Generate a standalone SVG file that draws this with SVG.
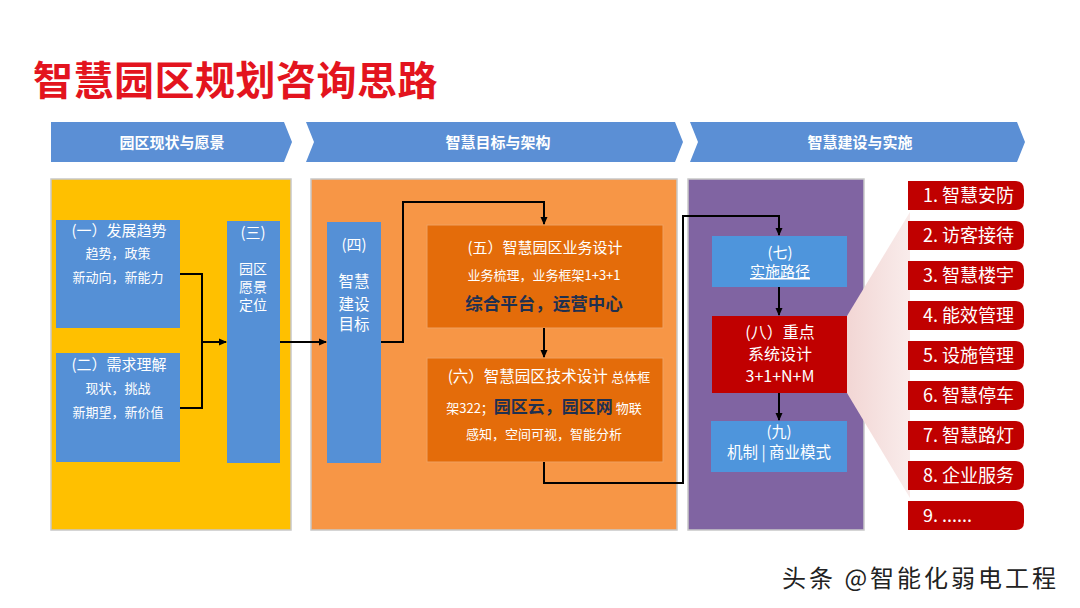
<svg xmlns="http://www.w3.org/2000/svg" width="1080" height="608" viewBox="0 0 1080 608">
<defs>
<style>
text{font-family:"Noto Sans CJK SC","Noto Sans",sans-serif;}
.hd{fill:#5B8FD5;}
.ht{fill:#fff;font-size:15px;font-weight:bold;text-anchor:middle;}
.panel{stroke:#C8C8C8;stroke-width:1.5;}
.bb{fill:#5590D6;}
.lb{fill:#4E95DC;}
.ob{fill:#E46C0A;stroke:#F0A060;stroke-width:1;}
.t15{fill:#fff;font-size:15px;text-anchor:middle;}
.t12{fill:#fff;font-size:13px;text-anchor:middle;}
.c{fill:none;stroke:#000;stroke-width:2;}
.tab{fill:#C00000;}
.tt{fill:#fff;font-size:18px;}
</style>
<marker id="ah" markerWidth="8" markerHeight="8" refX="7" refY="4" orient="auto" markerUnits="userSpaceOnUse">
<path d="M0,0.5 L8,4 L0,7.5 Z" fill="#000"/>
</marker>
<linearGradient id="fan" x1="0" y1="0" x2="1" y2="0">
<stop offset="0" stop-color="#F2D6D4"/>
<stop offset="1" stop-color="#F9ECEB"/>
</linearGradient>
</defs>
<rect width="1080" height="608" fill="#fff"/>
<text x="33" y="95" style="font-size:40px;font-weight:bold;fill:#E3141E;letter-spacing:0.5px;">智慧园区规划咨询思路</text>

<g id="header1"><path class="hd" d="M51,122 H284 L292,142 L284,162 H51 Z"/><text class="ht" x="172" y="148">园区现状与愿景</text></g>
<g id="header2"><path class="hd" d="M306,122 H675 L683,142 L675,162 H306 L314,142 Z"/><text class="ht" x="498" y="148">智慧目标与架构</text></g>
<g id="header3"><path class="hd" d="M690,122 H1017 L1025,142 L1017,162 H690 L698,142 Z"/><text class="ht" x="860" y="148">智慧建设与实施</text></g>

<g id="panel-yellow"><rect class="panel" x="51" y="179" width="240" height="351" fill="#FFC000"/></g>
<g id="panel-orange"><rect class="panel" x="311" y="179" width="366" height="351" fill="#F79646"/></g>
<g id="panel-purple"><rect class="panel" x="688" y="179" width="176" height="351" fill="#8064A2"/></g>

<g id="fan-shape"><path d="M847,316 L910,212 L910,498 L847,393 Z" fill="url(#fan)"/></g>

<g id="n1"><rect class="bb" x="56" y="220" width="124" height="108"/>
<text class="t15" x="119" y="236">(一）发展趋势</text>
<text class="t12" x="118" y="258">趋势，政策</text>
<text class="t12" x="118" y="282">新动向，新能力</text></g>
<g id="n2"><rect class="bb" x="56" y="353" width="124" height="109"/>
<text class="t15" x="119" y="370">(二）需求理解</text>
<text class="t12" x="118" y="393">现状，挑战</text>
<text class="t12" x="118" y="417">新期望，新价值</text></g>
<g id="n3"><rect class="bb" x="227" y="221" width="53" height="242"/>
<text class="t15" x="253" y="238">(三)</text>
<text class="t15" x="253" y="274" style="font-size:14px">园区<tspan x="253" dy="18">愿景</tspan><tspan x="253" dy="18">定位</tspan></text></g>

<g id="n4"><rect class="bb" x="327" y="222" width="54" height="241"/>
<text class="t15" x="354" y="250">(四)</text>
<text class="t15" x="354" y="287" style="font-size:15.5px">智慧</text>
<text class="t15" x="354" y="310" style="font-size:15.5px">建设<tspan x="354" dy="20">目标</tspan></text></g>
<g id="n5"><rect class="ob" x="427" y="225" width="236" height="103"/>
<text class="t15" x="545" y="253">(五）智慧园区业务设计</text>
<text class="t12" x="544" y="280">业务梳理，业务框架1+3+1</text>
<text x="544" y="310" style="font-size:17.5px;font-weight:bold;fill:#1F3050;text-anchor:middle;">综合平台，运营中心</text></g>
<g id="n6"><rect class="ob" x="427" y="358" width="236" height="104"/>
<text x="549" y="382" style="text-anchor:middle;fill:#fff;font-size:15.5px;">(六）智慧园区技术设计 <tspan style="font-size:13px">总体框</tspan></text>
<text x="544" y="413" style="text-anchor:middle;fill:#fff;font-size:13px;">架322；<tspan style="font-size:17px;font-weight:bold;fill:#1F3050;">园区云，园区网</tspan> 物联</text>
<text class="t12" x="544" y="439">感知，空间可视，智能分析</text></g>

<g id="n7"><rect class="lb" x="712" y="236" width="135" height="51"/>
<text class="t15" x="780" y="258">(七)<tspan x="780" dy="19" text-decoration="underline">实施路径</tspan></text></g>
<g id="n8"><rect x="712" y="316" width="135" height="77" fill="#C00000"/>
<text class="t15" x="780" y="338" style="font-size:16px">(八）重点<tspan x="780" dy="22">系统设计</tspan><tspan x="780" dy="22">3+1+N+M</tspan></text></g>
<g id="n9"><rect class="lb" x="711" y="421" width="136" height="51"/>
<text class="t15" x="779" y="437">(九)<tspan x="779" dy="21" style="font-size:15.5px">机制 | 商业模式</tspan></text></g>

<g id="list">
<g id="i1"><path class="tab" d="M908,181 H1015 Q1024,181 1024,190 V202 Q1024,210 1016,210 H908 Z"/><text class="tt" x="923" y="202">1. 智慧安防</text></g>
<g id="i2"><path class="tab" d="M908,221 H1015 Q1024,221 1024,230 V242 Q1024,250 1016,250 H908 Z"/><text class="tt" x="923" y="242">2. 访客接待</text></g>
<g id="i3"><path class="tab" d="M908,261 H1015 Q1024,261 1024,270 V282 Q1024,290 1016,290 H908 Z"/><text class="tt" x="923" y="282">3. 智慧楼宇</text></g>
<g id="i4"><path class="tab" d="M908,301 H1015 Q1024,301 1024,310 V322 Q1024,330 1016,330 H908 Z"/><text class="tt" x="923" y="322">4. 能效管理</text></g>
<g id="i5"><path class="tab" d="M908,341 H1015 Q1024,341 1024,350 V362 Q1024,370 1016,370 H908 Z"/><text class="tt" x="923" y="362">5. 设施管理</text></g>
<g id="i6"><path class="tab" d="M908,381 H1015 Q1024,381 1024,390 V402 Q1024,410 1016,410 H908 Z"/><text class="tt" x="923" y="402">6. 智慧停车</text></g>
<g id="i7"><path class="tab" d="M908,421 H1015 Q1024,421 1024,430 V442 Q1024,450 1016,450 H908 Z"/><text class="tt" x="923" y="442">7. 智慧路灯</text></g>
<g id="i8"><path class="tab" d="M908,461 H1015 Q1024,461 1024,470 V482 Q1024,490 1016,490 H908 Z"/><text class="tt" x="923" y="482">8. 企业服务</text></g>
<g id="i9"><path class="tab" d="M908,501 H1015 Q1024,501 1024,510 V522 Q1024,530 1016,530 H908 Z"/><text class="tt" x="923" y="522">9. ......</text></g>
</g>

<g id="connectors">
<path class="c" d="M180,274 H202 V408 H180"/>
<path class="c" d="M202,342 H226" marker-end="url(#ah)"/>
<path class="c" d="M280,342 H326" marker-end="url(#ah)"/>
<path class="c" d="M381,342 H403 V202 H544 V224" marker-end="url(#ah)"/>
<path class="c" d="M544,328 V357" marker-end="url(#ah)"/>
<path class="c" d="M544,462 V483 H683 V216 H779 V235" marker-end="url(#ah)"/>
<path class="c" d="M779,287 V315" marker-end="url(#ah)"/>
<path class="c" d="M779,393 V420" marker-end="url(#ah)"/>
</g>

<text x="782" y="587" style="font-size:24px;letter-spacing:3px;fill:#fff;" transform="translate(1,1)">头条 @智能化弱电工程</text>
<text x="782" y="587" style="font-size:24px;letter-spacing:3px;fill:#222;">头条 @智能化弱电工程</text>
</svg>
